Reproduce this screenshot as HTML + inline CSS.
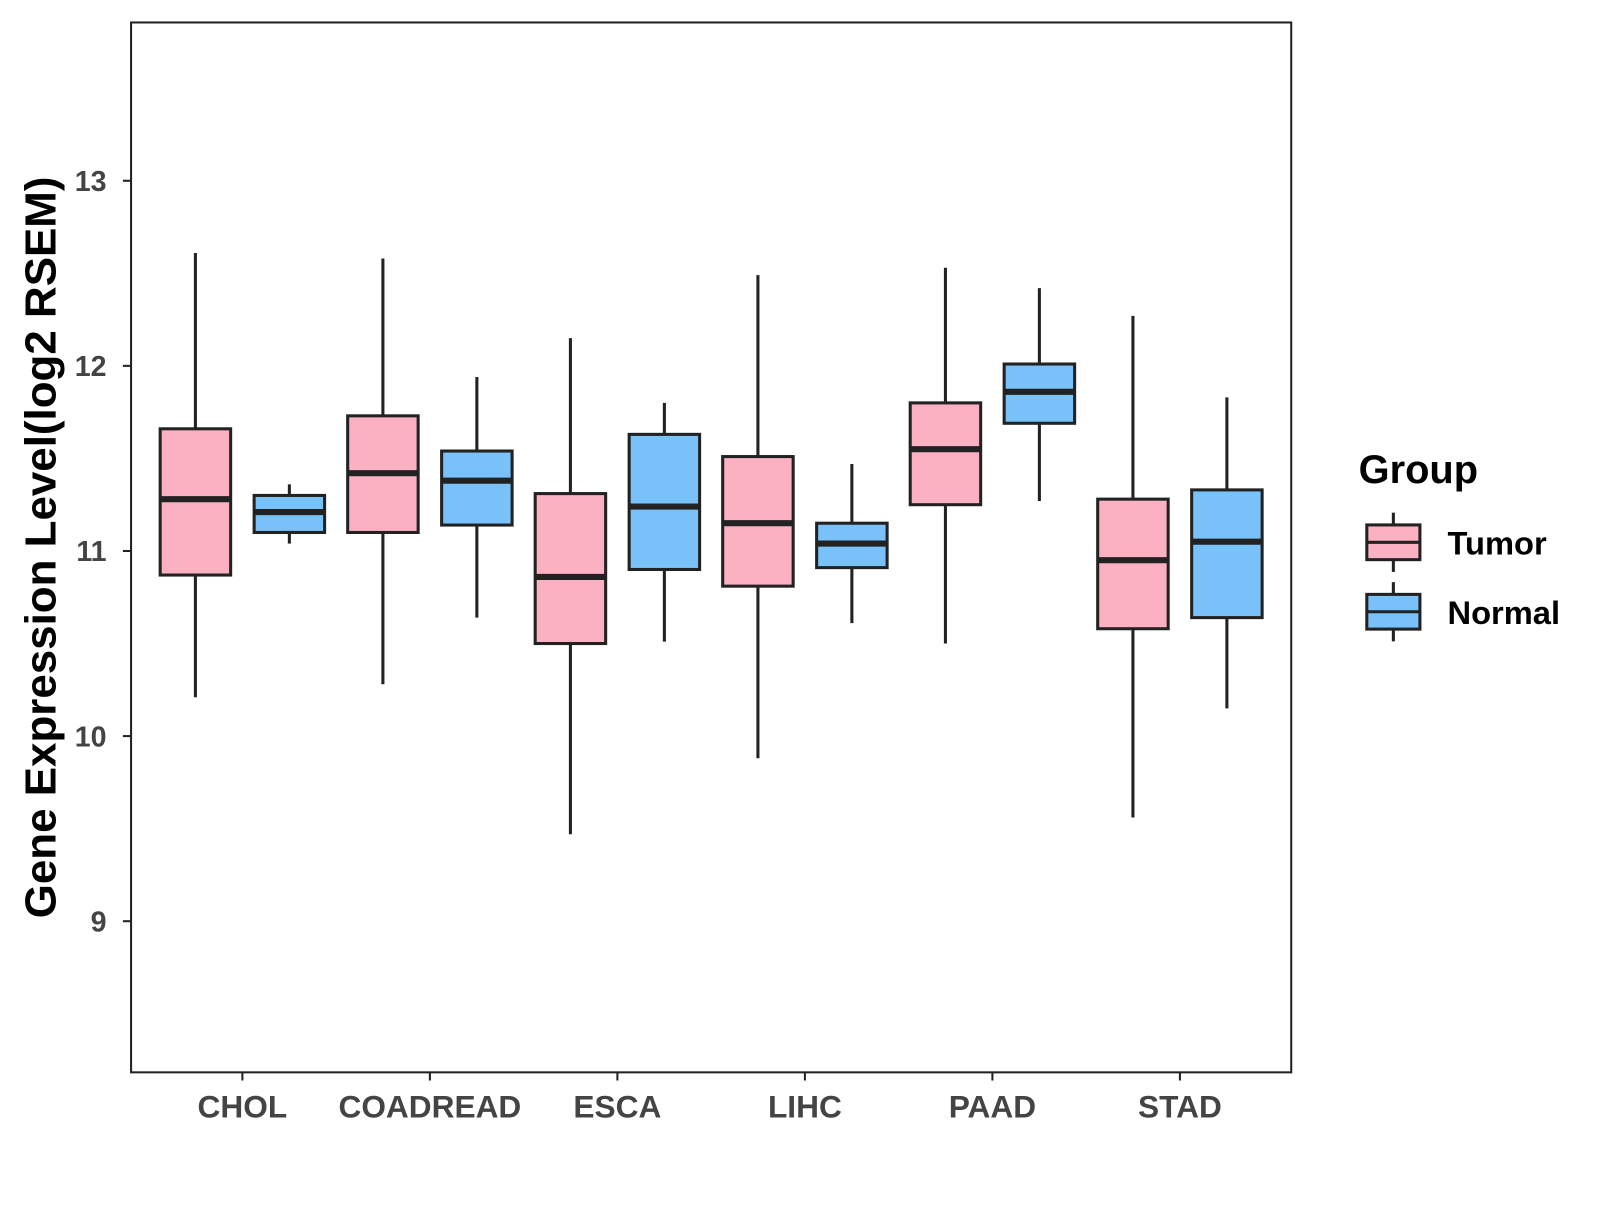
<!DOCTYPE html>
<html><head><meta charset="utf-8"><style>
html,body{margin:0;padding:0;background:#fff;}
svg text{font-family:"Liberation Sans",Arial,sans-serif;font-weight:bold;}
</style></head><body>
<svg id="chart" width="1600" height="1200" viewBox="0 0 1566 1175" xmlns="http://www.w3.org/2000/svg">
<rect x="128" y="22" width="1136" height="1028" fill="#fff" stroke="#222" stroke-width="2"/>
<g id="marks"></g>
<g id="yaxis"></g>
<g id="xaxis"></g>
<text x="40" y="536" transform="rotate(-90 40 536)" text-anchor="middle" dominant-baseline="central" font-size="43" fill="#000">Gene Expression Level(log2 RSEM)</text>
<g>
<text x="1330" y="473" font-size="39" fill="#000">Group</text>
<g>
<line x1="1364" y1="502" x2="1364" y2="560" stroke="#222" stroke-width="3"/>
<rect x="1338" y="514" width="52" height="34" fill="#FBB1C2" stroke="#222" stroke-width="3"/>
<line x1="1338" y1="531" x2="1390" y2="531" stroke="#222" stroke-width="3"/>
<text x="1417" y="543" font-size="32" fill="#000">Tumor</text></g>
<g>
<line x1="1364" y1="570" x2="1364" y2="628" stroke="#222" stroke-width="3"/>
<rect x="1338" y="582" width="52" height="34" fill="#79C2F9" stroke="#222" stroke-width="3"/>
<line x1="1338" y1="599" x2="1390" y2="599" stroke="#222" stroke-width="3"/>
<text x="1417" y="611" font-size="32" fill="#000">Normal</text></g>
</g>
</svg>
<script>
const categories=["CHOL","COADREAD","ESCA","LIHC","PAAD","STAD"];
const tumorLow=[10.21,10.28,9.47,9.88,10.50,9.56];
const tumorQ1=[10.87,11.10,10.50,10.81,11.25,10.58];
const tumorMed=[11.28,11.42,10.86,11.15,11.55,10.95];
const tumorQ3=[11.66,11.73,11.31,11.51,11.80,11.28];
const tumorHigh=[12.61,12.58,12.15,12.49,12.53,12.27];
const normalLow=[11.04,10.64,10.51,10.61,11.27,10.15];
const normalQ1=[11.10,11.14,10.90,10.91,11.69,10.64];
const normalMed=[11.21,11.38,11.24,11.04,11.86,11.05];
const normalQ3=[11.30,11.54,11.63,11.15,12.01,11.33];
const normalHigh=[11.36,11.94,11.80,11.47,12.42,11.83];
const yTicks=[9,10,11,12,13];
const NS="http://www.w3.org/2000/svg";
function y(v){return 177+(13-v)*181.25;}
function x(i){return 237+i*183.6;}
function mk(tag,attrs,parent){const e=document.createElementNS(NS,tag);for(const k in attrs)e.setAttribute(k,attrs[k]);parent.appendChild(e);return e;}
const marks=document.getElementById('marks');
function box(cx,lo,q1,md,q3,hi,fill,name){
  const g=mk('g',{},marks);
  
  
  mk('line',{x1:cx,x2:cx,y1:y(hi),y2:y(lo),stroke:'#222','stroke-width':3},g);
  mk('rect',{x:cx-34.5,y:y(q3),width:69,height:y(q1)-y(q3),fill:fill,stroke:'#222','stroke-width':3},g);
  mk('line',{x1:cx-34.5,x2:cx+34.5,y1:y(md),y2:y(md),stroke:'#222','stroke-width':6},g);
}
categories.forEach((c,i)=>{
  box(x(i)-46,tumorLow[i],tumorQ1[i],tumorMed[i],tumorQ3[i],tumorHigh[i],'#FBB1C2','box-tumor-'+c.toLowerCase());
  box(x(i)+46,normalLow[i],normalQ1[i],normalMed[i],normalQ3[i],normalHigh[i],'#79C2F9','box-normal-'+c.toLowerCase());
});
const ya=document.getElementById('yaxis');
yTicks.forEach(t=>{
  mk('line',{x1:120,x2:128,y1:y(t),y2:y(t),stroke:'#222','stroke-width':2},ya);
  const tx=mk('text',{x:104,y:y(t)+10,'text-anchor':'end','font-size':28,fill:'#444'},ya);
  
  
  tx.textContent=t;
});
const xa=document.getElementById('xaxis');
categories.forEach((c,i)=>{
  mk('line',{x1:x(i),x2:x(i),y1:1050,y2:1058,stroke:'#222','stroke-width':2},xa);
  const tx=mk('text',{x:x(i),y:1094,'text-anchor':'middle','font-size':31,fill:'#444'},xa);
  
  
  tx.textContent=c;
});
</script>
</body></html>
